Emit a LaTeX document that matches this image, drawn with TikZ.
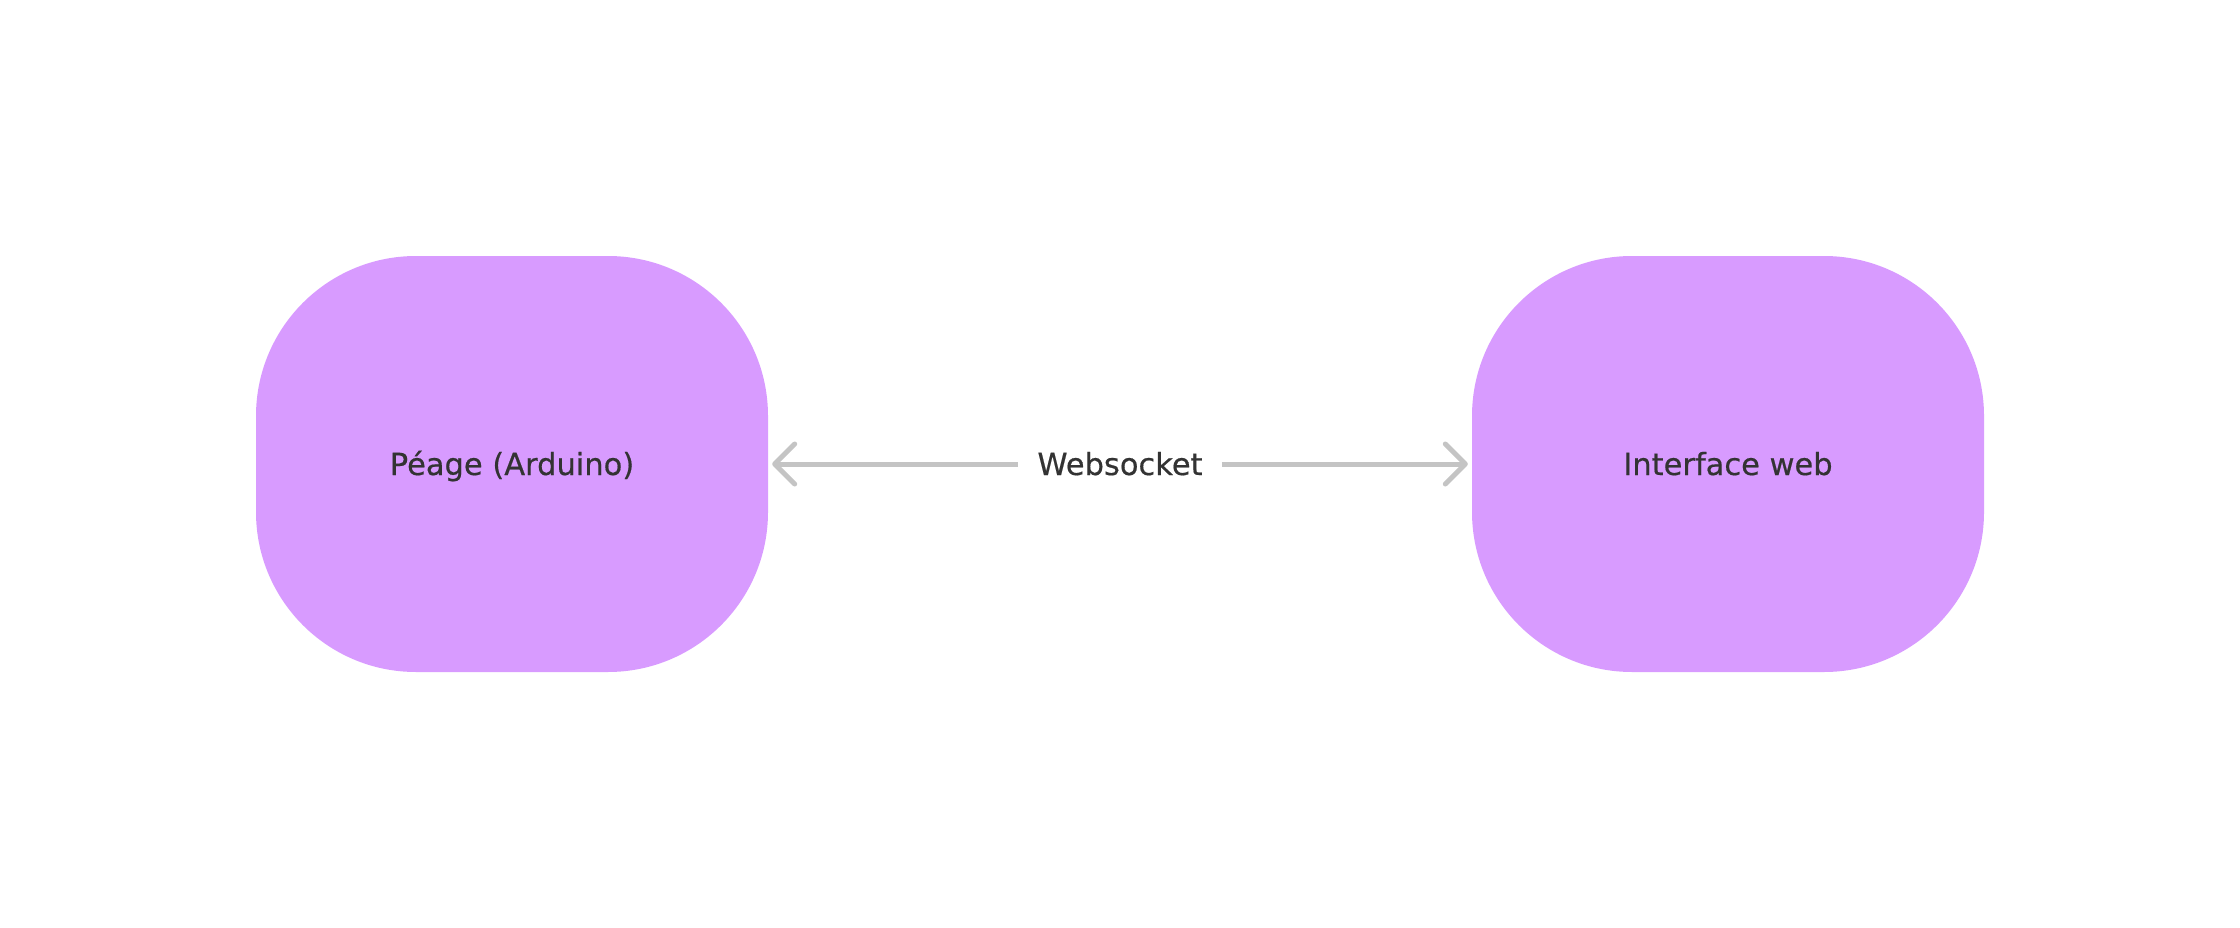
\documentclass[tikz,border=0pt]{standalone}
\usepackage{fontspec}
\setmainfont{DejaVu Sans}[BoldFont={DejaVu Sans}, BoldFeatures={FakeBold=0.5}]
\usetikzlibrary{arrows.meta}
\definecolor{boxfill}{HTML}{D89BFF}
\definecolor{linegray}{HTML}{C4C4C4}
\definecolor{txt}{HTML}{333333}
\tikzset{
  lblfont/.style={font=\fontsize{30.5}{36}\selectfont\bfseries, text=txt, text height=22pt, text depth=0pt},
  blob/.style={lblfont, fill=boxfill, draw=none, rounded corners=160pt, minimum width=512pt, minimum height=416pt, inner sep=0pt},
  lbl/.style={lblfont, inner xsep=19pt, inner ysep=0pt},
  conn/.style={draw=linegray, line width=5pt, line cap=butt},
  barb/.tip={Straight Barb[length=20pt, width=40pt, line cap=round, line join=round]}
}
\begin{document}
\begin{tikzpicture}[x=1pt, y=-1pt]
\useasboundingbox (0,0) rectangle (2240,928);
\node[blob] (a) at (512,464) {Péage (Arduino)};
\node[blob] (b) at (1728,464) {Interface web};
\node[lbl] (w) at (1120,464) {Websocket};
\draw[conn, barb-, shorten <=4pt] (a.east) -- (w.west);
\draw[conn, -barb, shorten >=4pt] (w.east) -- (b.west);
\end{tikzpicture}
\end{document}
